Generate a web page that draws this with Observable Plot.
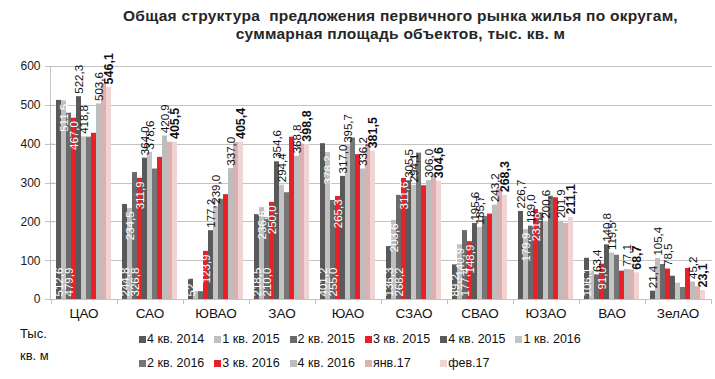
<!DOCTYPE html>
<html>
<head>
<meta charset="utf-8">
<script src="https://cdn.jsdelivr.net/npm/d3@7"></script>
<script src="https://cdn.jsdelivr.net/npm/@observablehq/plot@0.6"></script>
<style>
  html, body { margin: 0; padding: 0; background: #fff; }
  #wrap { position: relative; width: 715px; height: 379px; overflow: hidden; font-family: "Liberation Sans", Arial, sans-serif; }
  #title { position: absolute; top: 7px; left: 43px; width: 715px; text-align: center; font-weight: bold; font-size: 15.5px; letter-spacing: 0.25px; line-height: 18px; color: #262626; }
  #chart { position: absolute; top: 40px; left: 0; }
  #unit { position: absolute; left: 20px; top: 323px; font-size: 13px; line-height: 22px; color: #111; }
  #legend { position: absolute; left: 139px; top: 329px; display: grid; grid-template-columns: repeat(6, 75.3px); row-gap: 4px; font-size: 12.5px; color: #111; }
  #legend .it { display: flex; align-items: center; height: 20px; white-space: nowrap; }
  #legend .sw { width: 7px; height: 7px; margin-right: 1px; display: inline-block; }
</style>
</head>
<body>
<div id="wrap">
  <div id="title">Общая структура&nbsp; предложения первичного рынка жилья по округам,<br>суммарная площадь объектов, тыс. кв. м</div>
  <div id="chart"></div>
  <div id="unit">Тыс.<br>кв. м</div>
  <div id="legend"></div>
</div>
<script>
const districts = ["ЦАО","САО","ЮВАО","ЗАО","ЮАО","СЗАО","СВАО","ЮЗАО","ВАО","ЗелАО"];
const series = ["4 кв. 2014","1 кв. 2015","2 кв. 2015","3 кв. 2015","4 кв. 2015","1 кв. 2016","2 кв. 2016","3 кв. 2016","4 кв. 2016","янв.17","фев.17"];
const colors = ["#595959","#bfbfbf","#696969","#e8202a","#595959","#c4c4c4","#767676","#e8202a","#bdbdbd","#dcb0b0","#f0d3d3"];

const q4_2014 = [512.6, 244.8, 52.1, 218.5, 401.2, 136.3, 89.2, 226.7, 106.1, 21.4];
const q1_2015 = [511.5, 234.5, 20.0, 236.6, 378.2, 203.6, 140.9, 179.9, 72.6, 105.4];
const q2_2015 = [479.9, 326.8, 20.0, 210.0, 255.0, 268.2, 177.4, 189.0, 63.4, 90.0];
const q3_2015 = [467.0, 311.9, 123.9, 250.0, 265.3, 311.6, 148.9, 231.8, 91.0, 78.5];
const q4_2015 = [522.3, 364.0, 177.2, 354.6, 317.0, 305.5, 195.6, 223.0, 140.8, 60.0];
const q1_2016 = [418.8, 378.6, 239.0, 294.4, 395.7, 294.1, 185.7, 200.6, 119.5, 42.0];
const q2_2016 = [418.0, 336.0, 258.0, 275.0, 416.0, 377.0, 214.0, 266.0, 114.0, 31.0];
const q3_2016 = [428.0, 366.0, 270.0, 418.0, 373.0, 293.0, 220.0, 262.0, 73.0, 80.0];
const q4_2016 = [503.6, 420.9, 337.0, 368.8, 336.2, 306.0, 243.2, 201.9, 77.1, 45.2];
const jan17   = [555.0, 405.0, 404.0, 400.0, 400.0, 320.0, 283.0, 196.0, 76.0, 33.0];
const feb17   = [546.1, 405.5, 405.4, 398.8, 381.5, 304.6, 268.3, 211.1, 68.7, 23.1];
const seriesValues = [q4_2014, q1_2015, q2_2015, q3_2015, q4_2015, q1_2016, q2_2016, q3_2016, q4_2016, jan17, feb17];
const yTicks = [0, 100, 200, 300, 400, 500, 600];

// label placement per series, as in the reference (base / inside end / outside / none)
const seriesLabelMode = ["base", "end", "base", "end", "out", "out", null, null, "out", null, "bold"];
// places where the reference shows the label elsewhere or hides it
const labelOverrides = {
  "ЮЗАО|0": "out", "ЮЗАО|2": "out", "ЮЗАО|4": null,
  "ВАО|1": null, "ВАО|2": "out",
  "ЗелАО|0": "out", "ЗелАО|1": "out", "ЗелАО|2": null, "ЗелАО|3": "out", "ЗелАО|4": null, "ЗелАО|5": null,
  "ЮВАО|1": null, "ЮВАО|2": null
};

const data = districts.flatMap((d, i) => series.map((s, j) => ({district: d, series: s, j, value: seriesValues[j][i]})));
const fmt = v => d3.format(".1f")(v).replace(".", ",");
const modeOf = d => {
  const k = d.district + "|" + d.j;
  return k in labelOverrides ? labelOverrides[k] : seriesLabelMode[d.j];
};
const baseL = data.filter(d => modeOf(d) === "base");
const endL = data.filter(d => modeOf(d) === "end");
const outL = data.filter(d => modeOf(d) === "out");
const boldL = data.filter(d => modeOf(d) === "bold");

const plot = Plot.plot({
  width: 715, height: 290,
  marginTop: 26, marginBottom: 31, marginLeft: 50, marginRight: 3,
  style: {fontFamily: "Liberation Sans, Arial, sans-serif", background: "transparent", overflow: "visible"},
  fx: {domain: districts, paddingInner: 0.1, paddingOuter: 0.05, label: null},
  x: {domain: series, axis: null, padding: 0},
  y: {domain: [0, 600], label: null},
  color: {domain: series, range: colors},
  marks: [
    Plot.barY(data, {fx: "district", x: "series", y: "value", fill: "series"}),
    Plot.text(baseL, {fx: "district", x: "series", y: 0, text: d => fmt(d.value), rotate: -90, textAnchor: "start", dy: -3, fill: "white", fontSize: 11.5}),
    Plot.text(endL, {fx: "district", x: "series", y: "value", text: d => fmt(d.value), rotate: -90, textAnchor: "end", dy: 3, fill: "white", fontSize: 11.5}),
    Plot.text(outL, {fx: "district", x: "series", y: "value", text: d => fmt(d.value), rotate: -90, textAnchor: "start", dy: -3, fill: "#111", fontSize: 11.5}),
    Plot.text(boldL, {fx: "district", x: "series", y: "value", text: d => fmt(d.value), rotate: -90, textAnchor: "start", dy: -3, fill: "#111", fontSize: 12.5, fontWeight: "bold"}),
    Plot.axisY({ticks: yTicks, tickSize: 5, tickPadding: 9, fontSize: 12, stroke: "#bfbfbf", color: "#1a1a1a", label: null}),
    Plot.axisFx({anchor: "bottom", tickSize: 0, tickPadding: 9, fontSize: 13.5, color: "#111", label: null})
  ]
});
document.getElementById("chart").appendChild(plot);

// grid lines, axis line and category separators drawn from the plot's own scales
const y = plot.scale("y"), fx = plot.scale("fx");
const svg = d3.select(plot);
const g = svg.insert("g", "g").attr("stroke", "#c3c3c3").attr("stroke-width", 1);
const x0 = 50, x1 = 712;
yTicks.forEach(t => {
  g.append("line").attr("x1", x0 - 5).attr("x2", x1).attr("y1", Math.round(y.apply(t)) + 0.5).attr("y2", Math.round(y.apply(t)) + 0.5);
});
g.append("line").attr("x1", x0 + 0.5).attr("x2", x0 + 0.5).attr("y1", y.apply(600)).attr("y2", y.apply(0));
const gapHalf = (fx.step - fx.bandwidth) / 2;
const seps = districts.map(d => fx.apply(d) - gapHalf).concat([fx.apply(districts[districts.length - 1]) + fx.bandwidth + gapHalf]);
seps.forEach(s => {
  g.append("line").attr("x1", Math.round(s) + 0.5).attr("x2", Math.round(s) + 0.5).attr("y1", y.apply(0)).attr("y2", y.apply(0) + 5);
});

// legend
const leg = document.getElementById("legend");
series.forEach((s, j) => {
  const it = document.createElement("div");
  it.className = "it";
  it.innerHTML = `<span class="sw" style="background:${colors[j]}"></span><span>${s}</span>`;
  leg.appendChild(it);
});
</script>
</body>
</html>
